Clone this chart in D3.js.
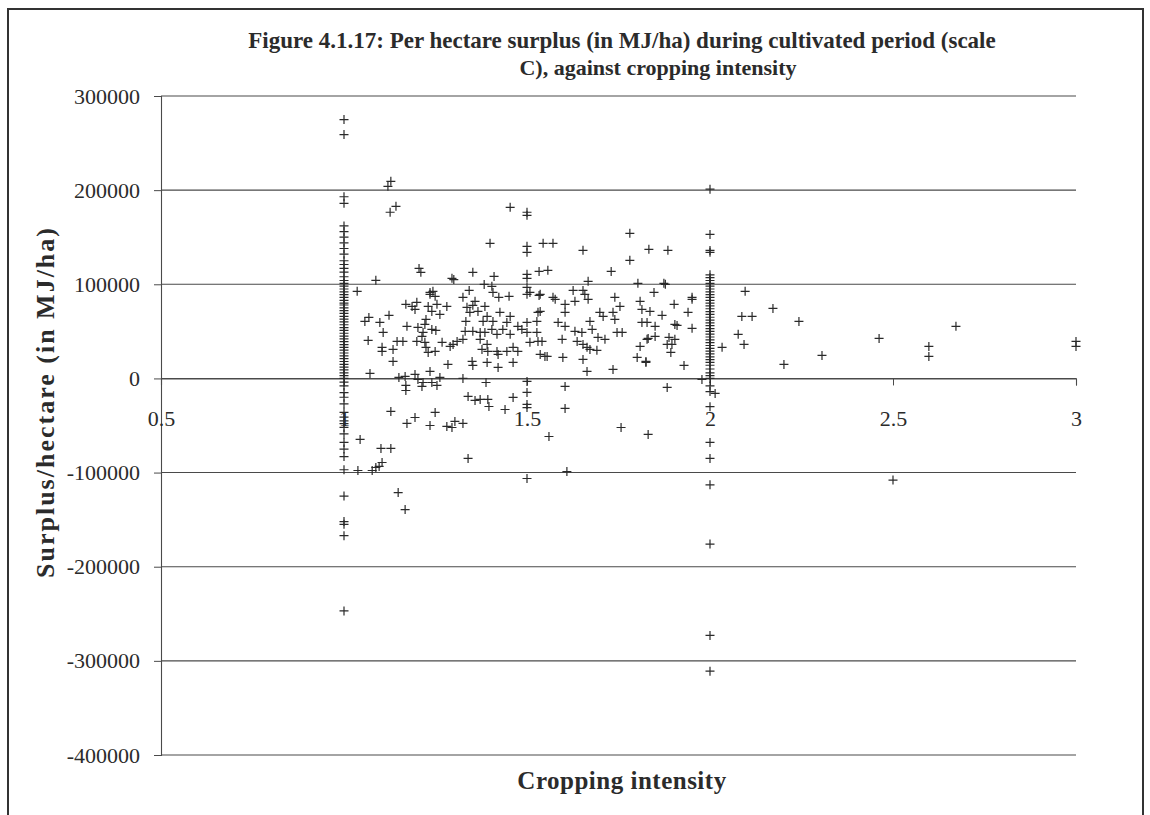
<!DOCTYPE html>
<html><head><meta charset="utf-8">
<script src="https://cdn.jsdelivr.net/npm/d3@7"></script>
<style>
html,body{margin:0;padding:0;background:#fff;}
svg{display:block;}
text{font-family:"Liberation Serif","Times New Roman",serif;fill:#2b2b2b;}
</style></head>
<body>
<svg id="chart" width="1150" height="815"></svg>
<script>
// ---- data ----
const titleLines = ["Figure 4.1.17: Per hectare surplus (in MJ/ha) during cultivated period (scale", "C), against cropping intensity"];
const xTitle = "Cropping intensity";
const yTitle = "Surplus/hectare (in MJ/ha)";
const xTicks = [0.5, 1, 1.5, 2, 2.5, 3];
const yTicks = [300000, 200000, 100000, 0, -100000, -200000, -300000, -400000];

// surplus values of farms with cropping intensity exactly 1
const surplusAt1 = [275000, 259000, 193000, 186000, 162000, 156000, 150000, 144000, 138000, 132000, 125000, 121000, 117000, 113000, 108000, 104000, 101000, 98000, 95000, 92000, 89000, 86000, 83000, 80000, 78000, 75000, 72000, 69000, 66000, 63000, 60000, 57000, 54000, 51000, 48000, 45000, 42000, 39000, 36000, 33000, 30000, 27000, 24000, 21000, 18000, 15000, 12000, 9000, 6000, 3000, 0, -4000, -8000, -15000, -20000, -27000, -36000, -41000, -45000, -48000, -52000, -59000, -68000, -75000, -83000, -97000, -125000, -152000, -155000, -167000, -247000];
// cropping intensity exactly 1.5
const surplusAt15 = [176500, 173300, 140300, 133900, 110600, 106300, 96700, 89300, 59500, 48900, -3200, -14900, -27600, -31000, -106300];
// cropping intensity exactly 2
const surplusAt2 = [201000, 153000, 136000, 134000, 110000, 107000, 104000, 101000, 98000, 95000, 92000, 89000, 86000, 83000, 80000, 77000, 74000, 71000, 68000, 65000, 62000, 59000, 56000, 53000, 50000, 47000, 44000, 41000, 38000, 35000, 32000, 29000, 26000, 23000, 20000, 17000, 14000, 10000, 6000, 3000, 0, -8000, -14000, -30000, -68000, -85000, -113000, -176000, -273000, -311000];
// other farms: [cropping intensity, surplus]
const otherFarms = [
[1.120,204100],[1.128,209400],[1.126,176500],[1.142,182800],[1.087,104200],[1.036,92500],[1.205,116900],[1.210,112700],
[1.243,92500],[1.235,91400],[1.295,106300],[1.300,105000],[1.352,112700],[1.399,143500],[1.410,108400],[1.454,181800],
[1.544,143500],[1.342,93500],[1.383,99900],[1.404,97800],[1.407,91400],[1.423,86100],[1.451,87200],[1.533,88200],
[1.533,113700],[1.557,114800],[1.781,154100],[1.571,143500],[1.653,136100],[1.833,137100],[1.885,136100],[1.781,125400],
[1.730,113700],[1.667,103100],[1.803,101000],[1.874,101000],[1.878,100000],[1.626,93500],[1.653,93500],[1.658,89300],
[1.847,91400],[2.096,92500],[1.740,86100],[1.951,86100],[1.571,86100],[2.172,74400],[2.087,65900],[2.115,65900],
[2.243,60600],[1.951,84000],[1.902,78700],[1.940,70200],[1.869,67000],[1.951,53200],[1.910,56300],[2.077,46800],
[2.093,36100],[2.033,33000],[2.462,42500],[2.672,55300],[2.598,34000],[2.598,23400],[2.306,24400],[2.202,14900],
[3.0,39300],[3.0,34000],[1.929,13800],[1.825,17000],[1.850,44600],[1.831,42500],[1.888,43600],[1.896,36100],
[1.893,27600],[1.883,36100],[1.978,-1100],[1.883,-9600],[2.014,-15900],[1.831,-59500],[2.5,-108000],
[1.604,-8500],[1.604,-31900],[1.757,-52100],[1.560,-61700],[1.609,-98900],
[1.667,84000],[1.631,81900],[1.604,78700],[1.577,84000],[1.604,70200],[1.585,59500],[1.604,55300],[1.631,50000],
[1.650,48900],[1.672,60600],[1.678,52100],[1.699,70200],[1.708,65900],[1.735,70200],[1.740,62700],[1.754,76500],
[1.809,81900],[1.814,73300],[1.836,71200],[1.828,59500],[1.850,55300],[1.814,59500],[1.904,57400],[1.828,41500],
[1.809,34000],[1.904,41500],[1.801,22300],[1.825,18100],[1.735,9600],[1.664,7400],[1.653,20200],[1.598,22300],
[1.549,23400],[1.596,41500],[1.637,39300],[1.653,36100],[1.664,33000],[1.672,30800],[1.691,29800],[1.694,43600],
[1.713,41500],[1.746,48900],[1.760,48900],[1.541,39300],[1.536,71200],
[1.235,89300],[1.249,87200],[1.325,86100],[1.358,81900],[1.352,77600],[1.508,91400],[1.536,89300],
[1.169,78700],[1.186,76500],[1.199,80800],[1.194,73300],[1.230,76500],[1.254,78700],[1.281,76500],[1.240,71200],
[1.262,68000],[1.336,75500],[1.344,70200],[1.366,71200],[1.385,76500],[1.391,65900],[1.454,65900],[1.426,70200],
[1.057,60600],[1.068,64800],[1.098,59500],[1.123,67000],[1.224,62700],[1.221,57400],[1.333,60600],[1.380,60600],
[1.407,60600],[1.445,59500],[1.475,55300],[1.530,70200],[1.527,60600],[1.172,55300],[1.202,54200],[1.216,48900],
[1.240,52100],[1.251,51000],[1.331,50000],[1.352,50000],[1.372,48900],[1.385,48900],[1.404,52100],[1.418,46800],
[1.434,52100],[1.454,46800],[1.486,52100],[1.527,48900],[1.107,48900],[1.066,40400],[1.104,33000],[1.104,28700],
[1.134,30800],[1.145,39300],[1.161,39300],[1.199,39300],[1.213,44600],[1.221,38300],[1.224,33000],[1.230,27600],
[1.249,28700],[1.268,38300],[1.290,34000],[1.298,36100],[1.309,39300],[1.325,41500],[1.372,41500],[1.391,36100],
[1.377,30800],[1.393,28700],[1.418,28700],[1.421,25500],[1.445,28700],[1.462,33000],[1.475,28700],[1.508,38300],
[1.530,39300],[1.536,25500],[1.555,23400],[1.134,18100],[1.284,14900],[1.350,18100],[1.352,13800],[1.391,17000],
[1.421,11700],[1.462,17000],[1.071,5300],[1.150,1100],[1.167,2100],[1.194,4300],[1.202,-1100],[1.216,-4300],
[1.235,7400],[1.240,-4300],[1.254,-7400],[1.262,1100],[1.169,-7400],[1.169,-12800],[1.213,-8500],[1.325,0],
[1.388,-4300],[1.339,-19100],[1.358,-23400],[1.372,-22300],[1.393,-22300],[1.396,-29800],[1.462,-20200],[1.440,-33000],
[1.128,-35100],[1.249,-36100],[1.194,-41500],[1.172,-47800],[1.235,-50000],[1.281,-51000],[1.295,-52100],[1.303,-45700],
[1.325,-47800],[1.044,-64800],[1.101,-74400],[1.128,-74400],[1.339,-85000],[1.104,-89300],[1.096,-93500],[1.038,-97800],
[1.077,-97800],[1.087,-94600],[1.148,-121200],[1.167,-139300]
];

// ---- build ----
const points = []
  .concat(surplusAt1.map(v => [1, v]))
  .concat(surplusAt15.map(v => [1.5, v]))
  .concat(surplusAt2.map(v => [2, v]))
  .concat(otherFarms);

const svg = d3.select("#chart");
const W = 1150, H = 815;
const m = {left: 161, right: 1076, top: 96, bottom: 755};

const x = d3.scaleLinear().domain([0.5, 3]).range([m.left, m.right]);
const y = d3.scaleLinear().domain([-400000, 300000]).range([m.bottom, m.top]);

svg.append("rect").attr("width", W).attr("height", H).attr("fill", "#fff");

// outer frame
svg.append("rect").attr("x", 8).attr("y", 9).attr("width", 1135).attr("height", 830)
  .attr("fill", "none").attr("stroke", "#333").attr("stroke-width", 2);

// title
svg.append("text").attr("text-anchor", "middle").attr("x", 622).attr("y", 48)
  .style("font-weight", "bold").style("font-size", "23px").text(titleLines[0]);
svg.append("text").attr("text-anchor", "middle").attr("x", 658).attr("y", 75)
  .style("font-weight", "bold").style("font-size", "22px").text(titleLines[1]);

// horizontal gridlines
svg.append("g").selectAll("line").data(yTicks).join("line")
  .attr("x1", m.left).attr("x2", m.right)
  .attr("y1", d => y(d)).attr("y2", d => y(d))
  .attr("stroke", "#4a4a4a").attr("stroke-width", 1.1);

// y axis
const yAxis = d3.axisLeft(y).tickValues(yTicks).tickSize(7).tickPadding(14).tickFormat(d => String(d));
const gy = svg.append("g").attr("transform", `translate(${m.left},0)`).call(yAxis);
gy.select(".domain").attr("stroke", "#4a4a4a").attr("stroke-width", 1.1);
gy.selectAll(".tick line").attr("stroke", "#4a4a4a");
gy.selectAll(".tick text").style("font-size", "22px").style("font-family", "Liberation Serif, serif").attr("fill", "#2b2b2b");

// x axis at y = 0
const xAxis = d3.axisBottom(x).tickValues(xTicks).tickSize(7).tickPadding(25).tickFormat(d => String(d));
const gx = svg.append("g").attr("transform", `translate(0,${y(0)})`).call(xAxis);
gx.select(".domain").attr("stroke", "#4a4a4a").attr("stroke-width", 1.1);
gx.selectAll(".tick line").attr("stroke", "#4a4a4a");
gx.selectAll(".tick text").style("font-size", "22px").style("font-family", "Liberation Serif, serif").attr("fill", "#2b2b2b");

// axis titles
svg.append("text").attr("x", 622).attr("y", 789).attr("text-anchor", "middle")
  .style("font-weight", "bold").style("font-size", "25px").style("letter-spacing", "0.5px").text(xTitle);
svg.append("text").attr("transform", "translate(54,402) rotate(-90)").attr("text-anchor", "middle")
  .style("font-weight", "bold").style("font-size", "26px").style("letter-spacing", "2px").text(yTitle);

// markers (+)
const s = 4.5;
const pg = svg.append("g").attr("stroke", "#2a2a2a").attr("stroke-width", 1.2);
pg.selectAll("path").data(points).join("path")
  .attr("d", d => {
    const px = x(d[0]), py = y(d[1]);
    return `M${px - s},${py}H${px + s}M${px},${py - s}V${py + s}`;
  });
</script>
</body></html>
